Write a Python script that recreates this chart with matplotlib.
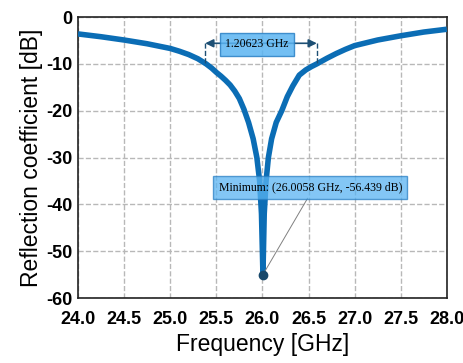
import matplotlib
matplotlib.use('Agg')
import matplotlib.pyplot as plt

# values
freq = [24.0, 24.25, 24.5, 24.75, 25.0, 25.1, 25.2, 25.3, 25.39, 25.45, 25.5,
        25.55, 25.6, 25.65, 25.7, 25.75, 25.8, 25.85, 25.9, 25.94, 25.97, 25.99,
        26.006, 26.02, 26.04, 26.065, 26.1, 26.15, 26.21, 26.27, 26.33, 26.4,
        26.47, 26.53, 26.59, 26.7, 26.8, 26.9, 27.0, 27.25, 27.5, 27.75, 28.0]
s11 = [-3.6, -4.2, -4.9, -5.7, -6.7, -7.3, -8.0, -8.9, -10.0, -10.9, -11.8,
       -12.6, -13.5, -14.5, -15.8, -17.4, -19.7, -22.5, -26.0, -30.0, -35.0, -42.0,
       -55.0, -42.0, -35.0, -30.0, -26.0, -22.5, -20.0, -17.0, -14.7, -12.4,
       -11.3, -10.6, -10.0, -8.8, -7.8, -6.9, -6.1, -4.9, -4.0, -3.2, -2.6]
min_f, min_db = 26.006, -55.0
bw_lo, bw_hi = 25.38, 26.59
bw_text = '1.20623 GHz'
min_text = 'Minimum: (26.0058 GHz, -56.439 dB)'
xticks = [24.0, 24.5, 25.0, 25.5, 26.0, 26.5, 27.0, 27.5, 28.0]
yticks = [0, -10, -20, -30, -40, -50, -60]

plt.rcParams['font.family'] = ['Liberation Sans', 'DejaVu Sans']
fig = plt.figure(figsize=(4.64, 3.63), dpi=100)
ax = fig.add_axes([0.168, 0.179, 0.795, 0.774])

ax.plot(freq, s11, color='#0b6db5', lw=4, solid_capstyle='butt', zorder=3)
ax.plot([min_f], [min_db], 'o', color='#17486b', ms=6, zorder=5)

# bandwidth marker
for f in (bw_lo, bw_hi):
    ax.plot([f, f], [-5.6, -10], ls='--', color='#1d4f74', lw=1, zorder=4)
ax.annotate('', xy=(bw_lo, -5.6), xytext=(bw_hi, -5.6),
            arrowprops=dict(arrowstyle='<|-|>', color='#1d4f74', lw=1.2,
                            mutation_scale=12, shrinkA=0, shrinkB=0), zorder=4)
ax.text((bw_lo + bw_hi) / 2 - 0.045, -5.8, bw_text, family='Liberation Serif', fontsize=8.5,
        ha='center', va='center', zorder=6,
        bbox=dict(boxstyle='square,pad=0.45', fc='#5ab4f2', ec='#2a80c4', lw=1, alpha=0.85))

# minimum label
ax.plot([min_f, 26.49], [min_db, -38.7], color='#808080', lw=0.7, zorder=4)
ax.text(26.52, -36.4, min_text, family='Liberation Serif', fontsize=8.5,
        ha='center', va='center', zorder=6,
        bbox=dict(boxstyle='square,pad=0.45', fc='#5ab4f2', ec='#2a80c4', lw=1, alpha=0.75))

ax.set_xlim(24, 28)
ax.set_ylim(-60, 0)
ax.set_xticks(xticks)
ax.set_yticks(yticks)
ax.set_xticklabels(['%.1f' % t for t in xticks], fontsize=13, fontweight='bold')
ax.set_yticklabels([str(t) for t in yticks], fontsize=13, fontweight='bold')
ax.tick_params(length=0)
ax.tick_params(axis='x', pad=9)
ax.tick_params(axis='y', pad=4)
ax.grid(True, ls='--', color='#b8b8b8', lw=1)
for s in ax.spines.values():
    s.set_linewidth(1.2)
    s.set_color('#222222')

ax.set_xlabel('Frequency [GHz]', fontsize=16.5, labelpad=4)
ax.set_ylabel('Reflection coefficient [dB]', fontsize=16.5, labelpad=2)

fig.savefig('out.png', dpi=100)
